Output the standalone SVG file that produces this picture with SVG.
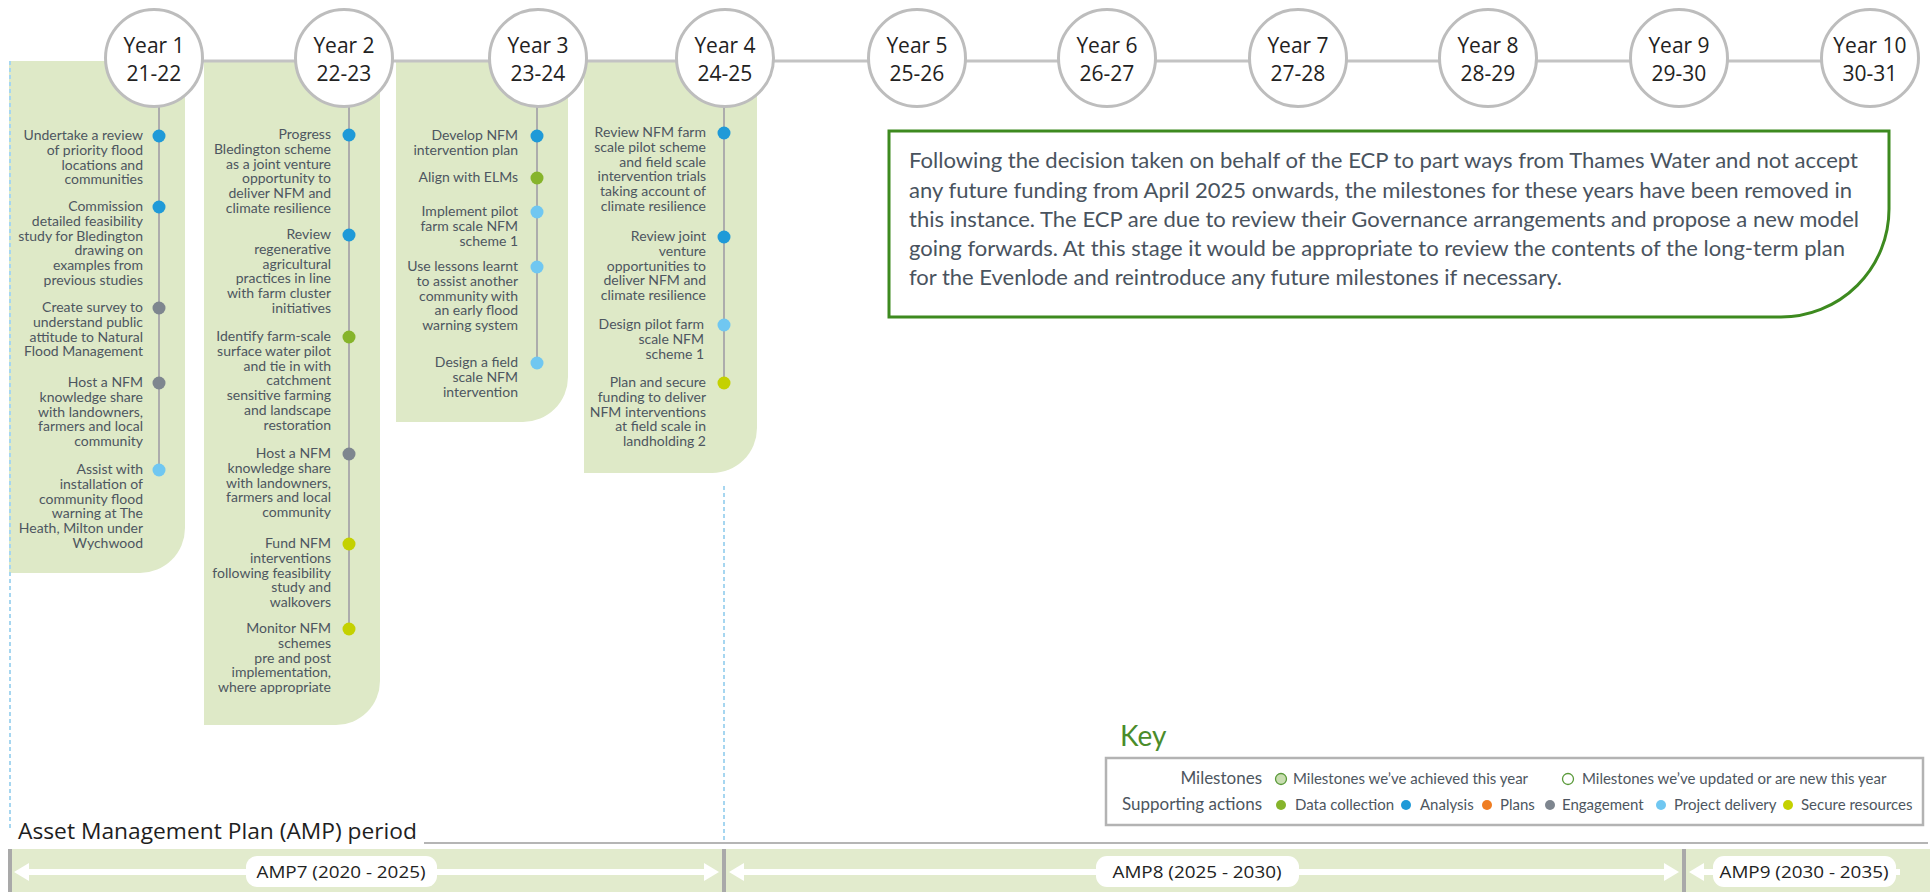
<svg xmlns="http://www.w3.org/2000/svg" width="1930" height="892" viewBox="0 0 1930 892">
<defs>
<style>
.panel{fill:#dee9c7}
.t{font-family:Lato,"Liberation Sans",sans-serif;font-size:14px;fill:#4d5660;text-anchor:end}
.yr{font-family:"Open Sans","Liberation Sans",sans-serif;font-size:21px;fill:#222;text-anchor:middle}
.yc{fill:#fff;stroke:#bdbdbd;stroke-width:3}
.vl{stroke:#acacac;stroke-width:2}
.dash{stroke:#a6d6f0;stroke-width:2;stroke-dasharray:4 3}
.an{fill:#1f9ad8}.en{fill:#7e868f}.pd{fill:#70c7f1}.dc{fill:#86b42b}.sr{fill:#c4d100}.pl{fill:#ef7d22}
.note{font-family:Lato,"Liberation Sans",sans-serif;font-size:21px;fill:#49535e}
.k{font-family:Lato,"Liberation Sans",sans-serif;font-size:15px;fill:#4d5660}
.kh{font-family:Lato,"Liberation Sans",sans-serif;font-size:17px;fill:#4d5660;text-anchor:end}
.amp{font-family:"Open Sans","Liberation Sans",sans-serif;font-size:16px;fill:#222;text-anchor:middle}
.sep{fill:#a9a9a9}
.arr{stroke:#fff;stroke-width:6}
</style>
</defs>

<!-- panels -->
<g id="panels">
<path class="panel" d="M9 61 H185 V528 A45 45 0 0 1 140 573 H9 Z"/>
<path class="panel" d="M204 61 H380 V681 A44 44 0 0 1 336 725 H204 Z"/>
<path class="panel" d="M396 61 H568 V377 A45 45 0 0 1 523 422 H396 Z"/>
<path class="panel" d="M584 61 H757 V428 A45 45 0 0 1 712 473 H584 Z"/>
</g>

<g id="connectors">
<line x1="154" y1="61" x2="1870" y2="61" stroke="#c3c3c3" stroke-width="3"/>
<line class="vl" x1="159" y1="105" x2="159" y2="470"/>
<line class="vl" x1="349" y1="105" x2="349" y2="629"/>
<line class="vl" x1="537" y1="105" x2="537" y2="363"/>
<line class="vl" x1="724" y1="105" x2="724" y2="383"/>
<line class="dash" x1="10" y1="61" x2="10" y2="830"/>
<line class="dash" x1="724" y1="486" x2="724" y2="842"/>
</g>

<!-- year circles -->
<g id="year1"><circle class="yc" cx="154" cy="58" r="48.5"/><text class="yr" x="154" y="53">Year 1</text><text class="yr" x="154" y="81">21-22</text></g>
<g id="year2"><circle class="yc" cx="344" cy="58" r="48.5"/><text class="yr" x="344" y="53">Year 2</text><text class="yr" x="344" y="81">22-23</text></g>
<g id="year3"><circle class="yc" cx="538" cy="58" r="48.5"/><text class="yr" x="538" y="53">Year 3</text><text class="yr" x="538" y="81">23-24</text></g>
<g id="year4"><circle class="yc" cx="725" cy="58" r="48.5"/><text class="yr" x="725" y="53">Year 4</text><text class="yr" x="725" y="81">24-25</text></g>
<g id="year5"><circle class="yc" cx="917" cy="58" r="48.5"/><text class="yr" x="917" y="53">Year 5</text><text class="yr" x="917" y="81">25-26</text></g>
<g id="year6"><circle class="yc" cx="1107" cy="58" r="48.5"/><text class="yr" x="1107" y="53">Year 6</text><text class="yr" x="1107" y="81">26-27</text></g>
<g id="year7"><circle class="yc" cx="1298" cy="58" r="48.5"/><text class="yr" x="1298" y="53">Year 7</text><text class="yr" x="1298" y="81">27-28</text></g>
<g id="year8"><circle class="yc" cx="1488" cy="58" r="48.5"/><text class="yr" x="1488" y="53">Year 8</text><text class="yr" x="1488" y="81">28-29</text></g>
<g id="year9"><circle class="yc" cx="1679" cy="58" r="48.5"/><text class="yr" x="1679" y="53">Year 9</text><text class="yr" x="1679" y="81">29-30</text></g>
<g id="year10"><circle class="yc" cx="1870" cy="58" r="48.5"/><text class="yr" x="1870" y="53">Year 10</text><text class="yr" x="1870" y="81">30-31</text></g>

<!-- panel 1 items -->
<g id="p1">
<circle class="an" cx="159" cy="136" r="6.5"/>
<text class="t" y="140"><tspan x="143">Undertake a review</tspan><tspan x="143" dy="14.8">of priority flood</tspan><tspan x="143" dy="14.8">locations and</tspan><tspan x="143" dy="14.8">communities</tspan></text>
<circle class="an" cx="159" cy="207" r="6.5"/>
<text class="t" y="211"><tspan x="143">Commission</tspan><tspan x="143" dy="14.8">detailed feasibility</tspan><tspan x="143" dy="14.8">study for Bledington</tspan><tspan x="143" dy="14.8">drawing on</tspan><tspan x="143" dy="14.8">examples from</tspan><tspan x="143" dy="14.8">previous studies</tspan></text>
<circle class="en" cx="159" cy="308" r="6.5"/>
<text class="t" y="312"><tspan x="143">Create survey to</tspan><tspan x="143" dy="14.8">understand public</tspan><tspan x="143" dy="14.8">attitude to Natural</tspan><tspan x="143" dy="14.8">Flood Management</tspan></text>
<circle class="en" cx="159" cy="383" r="6.5"/>
<text class="t" y="387"><tspan x="143">Host a NFM</tspan><tspan x="143" dy="14.8">knowledge share</tspan><tspan x="143" dy="14.8">with landowners,</tspan><tspan x="143" dy="14.8">farmers and local</tspan><tspan x="143" dy="14.8">community</tspan></text>
<circle class="pd" cx="159" cy="470" r="6.5"/>
<text class="t" y="474"><tspan x="143">Assist with</tspan><tspan x="143" dy="14.8">installation of</tspan><tspan x="143" dy="14.8">community flood</tspan><tspan x="143" dy="14.8">warning at The</tspan><tspan x="143" dy="14.8">Heath, Milton under</tspan><tspan x="143" dy="14.8">Wychwood</tspan></text>
</g>

<!-- panel 2 items -->
<g id="p2">
<circle class="an" cx="349" cy="135" r="6.5"/>
<text class="t" y="139"><tspan x="331">Progress</tspan><tspan x="331" dy="14.8">Bledington scheme</tspan><tspan x="331" dy="14.8">as a joint venture</tspan><tspan x="331" dy="14.8">opportunity to</tspan><tspan x="331" dy="14.8">deliver NFM and</tspan><tspan x="331" dy="14.8">climate resilience</tspan></text>
<circle class="an" cx="349" cy="235" r="6.5"/>
<text class="t" y="239"><tspan x="331">Review</tspan><tspan x="331" dy="14.8">regenerative</tspan><tspan x="331" dy="14.8">agricultural</tspan><tspan x="331" dy="14.8">practices in line</tspan><tspan x="331" dy="14.8">with farm cluster</tspan><tspan x="331" dy="14.8">initiatives</tspan></text>
<circle class="dc" cx="349" cy="337" r="6.5"/>
<text class="t" y="341"><tspan x="331">Identify farm-scale</tspan><tspan x="331" dy="14.8">surface water pilot</tspan><tspan x="331" dy="14.8">and tie in with</tspan><tspan x="331" dy="14.8">catchment</tspan><tspan x="331" dy="14.8">sensitive farming</tspan><tspan x="331" dy="14.8">and landscape</tspan><tspan x="331" dy="14.8">restoration</tspan></text>
<circle class="en" cx="349" cy="454" r="6.5"/>
<text class="t" y="458"><tspan x="331">Host a NFM</tspan><tspan x="331" dy="14.8">knowledge share</tspan><tspan x="331" dy="14.8">with landowners,</tspan><tspan x="331" dy="14.8">farmers and local</tspan><tspan x="331" dy="14.8">community</tspan></text>
<circle class="sr" cx="349" cy="544" r="6.5"/>
<text class="t" y="548"><tspan x="331">Fund NFM</tspan><tspan x="331" dy="14.8">interventions</tspan><tspan x="331" dy="14.8">following feasibility</tspan><tspan x="331" dy="14.8">study and</tspan><tspan x="331" dy="14.8">walkovers</tspan></text>
<circle class="sr" cx="349" cy="629" r="6.5"/>
<text class="t" y="633"><tspan x="331">Monitor NFM</tspan><tspan x="331" dy="14.8">schemes</tspan><tspan x="331" dy="14.8">pre and post</tspan><tspan x="331" dy="14.8">implementation,</tspan><tspan x="331" dy="14.8">where appropriate</tspan></text>
</g>

<!-- panel 3 items -->
<g id="p3">
<circle class="an" cx="537" cy="136" r="6.5"/>
<text class="t" y="140"><tspan x="518">Develop NFM</tspan><tspan x="518" dy="14.8">intervention plan</tspan></text>
<circle class="dc" cx="537" cy="178" r="6.5"/>
<text class="t" y="182"><tspan x="518">Align with ELMs</tspan></text>
<circle class="pd" cx="537" cy="212" r="6.5"/>
<text class="t" y="216"><tspan x="518">Implement pilot</tspan><tspan x="518" dy="14.8">farm scale NFM</tspan><tspan x="518" dy="14.8">scheme 1</tspan></text>
<circle class="pd" cx="537" cy="267" r="6.5"/>
<text class="t" y="271"><tspan x="518">Use lessons learnt</tspan><tspan x="518" dy="14.8">to assist another</tspan><tspan x="518" dy="14.8">community with</tspan><tspan x="518" dy="14.8">an early flood</tspan><tspan x="518" dy="14.8">warning system</tspan></text>
<circle class="pd" cx="537" cy="363" r="6.5"/>
<text class="t" y="367"><tspan x="518">Design a field</tspan><tspan x="518" dy="14.8">scale NFM</tspan><tspan x="518" dy="14.8">intervention</tspan></text>
</g>

<!-- panel 4 items -->
<g id="p4">
<circle class="an" cx="724" cy="133" r="6.5"/>
<text class="t" y="137"><tspan x="706">Review NFM farm</tspan><tspan x="706" dy="14.8">scale pilot scheme</tspan><tspan x="706" dy="14.8">and field scale</tspan><tspan x="706" dy="14.8">intervention trials</tspan><tspan x="706" dy="14.8">taking account of</tspan><tspan x="706" dy="14.8">climate resilience</tspan></text>
<circle class="an" cx="724" cy="237" r="6.5"/>
<text class="t" y="241"><tspan x="706">Review joint</tspan><tspan x="706" dy="14.8">venture</tspan><tspan x="706" dy="14.8">opportunities to</tspan><tspan x="706" dy="14.8">deliver NFM and</tspan><tspan x="706" dy="14.8">climate resilience</tspan></text>
<circle class="pd" cx="724" cy="325" r="6.5"/>
<text class="t" y="329"><tspan x="704">Design pilot farm</tspan><tspan x="704" dy="14.8">scale NFM</tspan><tspan x="704" dy="14.8">scheme 1</tspan></text>
<circle class="sr" cx="724" cy="383" r="6.5"/>
<text class="t" y="387"><tspan x="706">Plan and secure</tspan><tspan x="706" dy="14.8">funding to deliver</tspan><tspan x="706" dy="14.8">NFM interventions</tspan><tspan x="706" dy="14.8">at field scale in</tspan><tspan x="706" dy="14.8">landholding 2</tspan></text>
</g>

<!-- note -->
<g id="note">
<path d="M889 131 H1889 V209 A108 108 0 0 1 1781 317 H889 Z" fill="#fff" stroke="#3d8a1f" stroke-width="3"/>
<text class="note" x="909" y="168" textLength="949" lengthAdjust="spacingAndGlyphs">Following the decision taken on behalf of the ECP to part ways from Thames Water and not accept</text>
<text class="note" x="909" y="198" textLength="943" lengthAdjust="spacingAndGlyphs">any future funding from April 2025 onwards, the milestones for these years have been removed in</text>
<text class="note" x="909" y="227" textLength="950" lengthAdjust="spacingAndGlyphs">this instance. The ECP are due to review their Governance arrangements and propose a new model</text>
<text class="note" x="909" y="256" textLength="936" lengthAdjust="spacingAndGlyphs">going forwards. At this stage it would be appropriate to review the contents of the long-term plan</text>
<text class="note" x="909" y="285" textLength="653" lengthAdjust="spacingAndGlyphs">for the Evenlode and reintroduce any future milestones if necessary.</text>
</g>

<!-- key -->
<g id="key">
<text x="1120" y="746" font-family="Lato, 'Liberation Sans', sans-serif" font-size="28" fill="#4a8c2a">Key</text>
<rect x="1106" y="758" width="817" height="67" fill="#fff" stroke="#b3b3b3" stroke-width="2.5"/>
<text class="kh" x="1262" y="784">Milestones</text>
<text class="kh" x="1262" y="810">Supporting actions</text>
<circle cx="1281" cy="779" r="5.5" fill="#c9ddb1" stroke="#5a9a3a" stroke-width="1.3"/>
<text class="k" x="1293" y="784">Milestones we’ve achieved this year</text>
<circle cx="1568" cy="779" r="5.5" fill="#fff" stroke="#5a9a3a" stroke-width="1.3"/>
<text class="k" x="1582" y="784">Milestones we’ve updated or are new this year</text>
<circle class="dc" cx="1281" cy="805" r="5"/><text class="k" x="1295" y="810">Data collection</text>
<circle class="an" cx="1406" cy="805" r="5"/><text class="k" x="1420" y="810">Analysis</text>
<circle class="pl" cx="1487" cy="805" r="5"/><text class="k" x="1500" y="810">Plans</text>
<circle class="en" cx="1550" cy="805" r="5"/><text class="k" x="1562" y="810">Engagement</text>
<circle class="pd" cx="1661" cy="805" r="5"/><text class="k" x="1674" y="810">Project delivery</text>
<circle class="sr" cx="1788" cy="805" r="5"/><text class="k" x="1801" y="810">Secure resources</text>
</g>

<!-- AMP periods -->
<g id="amp">
<text x="18" y="839" font-family="'Open Sans', 'Liberation Sans', sans-serif" font-size="21" fill="#1e1e1e" textLength="399" lengthAdjust="spacingAndGlyphs">Asset Management Plan (AMP) period</text>
<line x1="424" y1="843" x2="1928" y2="843" stroke="#b5b5b5" stroke-width="2"/>
<rect x="8" y="849" width="1922" height="43" fill="#e2ebcd"/>
<rect class="sep" x="8" y="849" width="4" height="43"/>
<rect class="sep" x="722" y="849" width="4" height="43"/>
<rect class="sep" x="1682" y="849" width="4" height="43"/>
<line class="arr" x1="24" y1="872" x2="709" y2="872"/>
<polygon fill="#fff" points="14,872 29,863 29,881"/>
<polygon fill="#fff" points="719,872 704,863 704,881"/>
<line class="arr" x1="739" y1="872" x2="1669" y2="872"/>
<polygon fill="#fff" points="729,872 744,863 744,881"/>
<polygon fill="#fff" points="1679,872 1664,863 1664,881"/>
<line class="arr" x1="1699" y1="872" x2="1900" y2="872"/>
<polygon fill="#fff" points="1689,872 1704,863 1704,881"/>
<g id="amp7"><rect x="246" y="856" width="191" height="31" rx="11" fill="#fff"/><text class="amp" x="341" y="878" textLength="169" lengthAdjust="spacingAndGlyphs">AMP7 (2020 - 2025)</text></g>
<g id="amp8"><rect x="1096" y="856" width="203" height="31" rx="11" fill="#fff"/><text class="amp" x="1197" y="878" textLength="169" lengthAdjust="spacingAndGlyphs">AMP8 (2025 - 2030)</text></g>
<g id="amp9"><rect x="1713" y="856" width="183" height="31" rx="11" fill="#fff"/><text class="amp" x="1804" y="878" textLength="169" lengthAdjust="spacingAndGlyphs">AMP9 (2030 - 2035)</text></g>
</g>
</svg>
